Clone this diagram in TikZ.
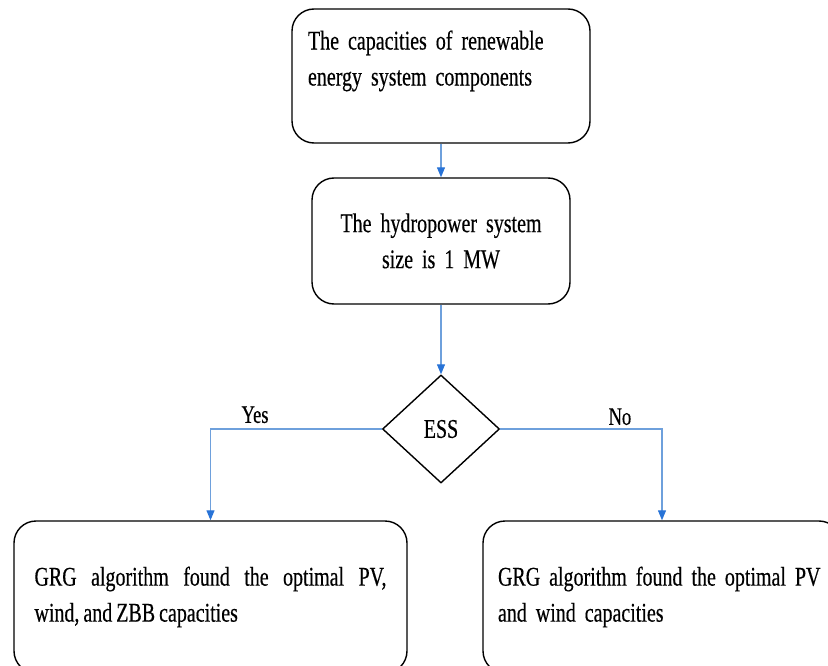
\documentclass[tikz,border=0pt]{standalone}
\usepackage{fontspec}
\setmainfont{Liberation Serif}[FakeStretch=0.74, WordSpace=0.8, FakeBold=0.4]
\usetikzlibrary{shapes.geometric,arrows.meta}
\definecolor{lineblue}{RGB}{110,160,220}
\definecolor{tipblue}{RGB}{40,115,215}

\begin{document}
\begin{tikzpicture}[x=1pt, y=-1pt,
        >={Triangle[length=10pt,width=8pt,color=tipblue]},
        box/.style={draw, line width=1.4pt, rounded corners=22pt, inner xsep=15pt, inner ysep=0pt,
            font=\fontsize{27}{36}\selectfont},
        decision/.style={draw, diamond, line width=1.4pt, minimum width=117pt, minimum height=108pt,
            inner sep=0pt, font=\fontsize{27}{36}\selectfont},
        flow/.style={draw=lineblue, line width=1.2pt},
        branch/.style={font=\fontsize{25}{30}\selectfont}]
        % ==== FRAME ====
        \useasboundingbox (0,0) rectangle (828,666);
        \clip (0,0) rectangle (828,666);
        % ==== BOXES ====
        \node[box, minimum width=298pt, minimum height=134pt, text width=266pt, align=left]
            (capacities) at (441,76) {The capacities of renewable\\ energy system components\\ \mbox{}};
        \node[box, minimum width=258pt, minimum height=126pt, text width=228pt, align=center]
            (hydro) at (441,241) {The hydropower system\\ size is 1 MW};
        \node[decision] (ess) at (441,429) {ESS};
        \node[box, minimum width=393pt, minimum height=152pt, text width=352pt, align=justify]
            (withzbb) at (210.5,597) {GRG algorithm found the optimal PV,\linebreak wind, and ZBB capacities};
        \node[box, minimum width=358pt, minimum height=152pt, text width=328pt, align=left]
            (nozbb) at (662,597) {\mbox{GRG algorithm found the optimal PV}\\ and wind capacities};
        % ==== CONNECTORS ====
        \draw[flow, ->] (capacities) -- (hydro);
        \draw[flow, ->] (hydro) -- (ess);
        \draw[flow, ->] (ess.west) -| (withzbb.north) node[branch, pos=0.37, above=2pt] {Yes};
        \draw[flow, ->] (ess.east) -| (nozbb.north) node[branch, pos=0.37, above=0pt] {No};
\end{tikzpicture}
\end{document}
